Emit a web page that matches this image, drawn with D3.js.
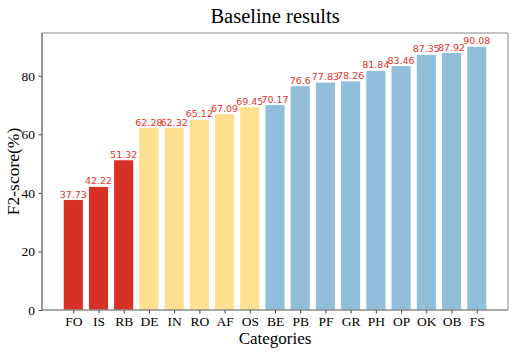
<!DOCTYPE html>
<html>
<head>
<meta charset="utf-8">
<script src="https://cdn.jsdelivr.net/npm/d3@7"></script>
<style>
  body { margin: 0; background: #fff; }
  .tick text { font-family: "Liberation Serif", "Times New Roman", serif; }
</style>
</head>
<body>
<div class="canvas"></div>
<script>
// Data
const categories = ['FO', 'IS', 'RB', 'DE', 'IN', 'RO', 'AF', 'OS', 'BE', 'PB', 'PF', 'GR', 'PH', 'OP', 'OK', 'OB', 'FS']
const scores = [37.73, 42.22, 51.32, 62.28, 62.32, 65.12, 67.09, 69.45, 70.17, 76.6, 77.83, 78.26, 81.84, 83.46, 87.35, 87.92, 90.08]
const groups = ['low', 'low', 'low', 'mid', 'mid', 'mid', 'mid', 'mid', 'high', 'high', 'high', 'high', 'high', 'high', 'high', 'high', 'high']
const yTicks = [0, 20, 40, 60, 80]

const data = categories.map((name, i) => ({name, score: scores[i], group: groups[i]}))

const width = 514
const height = 352
const margin = {top: 33, right: 6, bottom: 42, left: 42}
const graphWidth = width - margin.left - margin.right
const graphHeight = height - margin.top - margin.bottom

const colour = d3.scaleOrdinal()
  .domain(['low', 'mid', 'high'])
  .range(['#d73027', '#fee090', '#91bfdb'])

const svg = d3.select('.canvas')
  .append('svg')
    .attr('width', width)
    .attr('height', height)

const graph = svg.append('g')
  .attr('transform', `translate(${margin.left},${margin.top})`)

// Scales (matplotlib-like margins on x)
const x = d3.scaleLinear()
  .domain([-1.24, categories.length - 1 + 1.24])
  .range([0, graphWidth])

const y = d3.scaleLinear()
  .domain([0, 94.6])
  .range([graphHeight, 0])

const barWidth = x(0.8) - x(0)

// Bars
graph.selectAll('rect.bar')
  .data(data)
  .enter()
  .append('rect')
    .attr('class', 'bar')
    .attr('x', d => x(categories.indexOf(d.name)) - barWidth / 2)
    .attr('y', d => y(d.score))
    .attr('width', barWidth)
    .attr('height', d => graphHeight - y(d.score))
    .attr('fill', d => colour(d.group))
    .attr('stroke', '#fff')
    .attr('stroke-width', 1)

// Value labels
graph.selectAll('text.value')
  .data(data)
  .enter()
  .append('text')
    .attr('class', 'value')
    .attr('x', d => x(categories.indexOf(d.name)))
    .attr('y', d => y(d.score) - 2)
    .attr('text-anchor', 'middle')
    .attr('font-family', '"DejaVu Sans", sans-serif')
    .attr('font-size', 9.5)
    .attr('fill', '#e3342c')
    .text(d => d.score)

// Axes
const xAxis = d3.axisBottom(x)
  .tickValues(d3.range(categories.length))
  .tickFormat(i => categories[i])
  .tickSize(3.5)
  .tickPadding(3)

const yAxis = d3.axisLeft(y)
  .tickValues(yTicks)
  .tickSize(3.5)
  .tickPadding(3.5)

const xAxisGroup = graph.append('g')
  .attr('transform', `translate(0, ${graphHeight})`)
  .call(xAxis)

const yAxisGroup = graph.append('g')
  .call(yAxis)

;[xAxisGroup, yAxisGroup].forEach(g => {
  g.select('.domain').remove()
  g.selectAll('.tick line').attr('stroke', '#444')
  g.selectAll('.tick text').attr('font-size', 13.5).attr('fill', '#000')
})

// Frame: top/right light, left/bottom darker
graph.append('line')
  .attr('x1', 0).attr('x2', graphWidth).attr('y1', 0).attr('y2', 0)
  .attr('stroke', '#888').attr('stroke-width', 1)
graph.append('line')
  .attr('x1', graphWidth).attr('x2', graphWidth).attr('y1', 0).attr('y2', graphHeight)
  .attr('stroke', '#888').attr('stroke-width', 1)
graph.append('line')
  .attr('x1', 0).attr('x2', 0).attr('y1', 0).attr('y2', graphHeight)
  .attr('stroke', '#555').attr('stroke-width', 1.2)
graph.append('line')
  .attr('x1', 0).attr('x2', graphWidth).attr('y1', graphHeight).attr('y2', graphHeight)
  .attr('stroke', '#555').attr('stroke-width', 1.2)

// Title and axis labels
svg.append('text')
  .attr('x', margin.left + graphWidth / 2)
  .attr('y', 23)
  .attr('text-anchor', 'middle')
  .attr('font-family', '"Liberation Serif", "Times New Roman", serif')
  .attr('font-size', 20.5)
  .text('Baseline results')

svg.append('text')
  .attr('x', margin.left + graphWidth / 2)
  .attr('y', 344)
  .attr('text-anchor', 'middle')
  .attr('font-family', '"Liberation Serif", "Times New Roman", serif')
  .attr('font-size', 17)
  .text('Categories')

svg.append('text')
  .attr('transform', `translate(19, ${margin.top + graphHeight / 2}) rotate(-90)`)
  .attr('text-anchor', 'middle')
  .attr('font-family', '"Liberation Serif", "Times New Roman", serif')
  .attr('font-size', 17.5)
  .text('F2-score(%)')
</script>
</body>
</html>
